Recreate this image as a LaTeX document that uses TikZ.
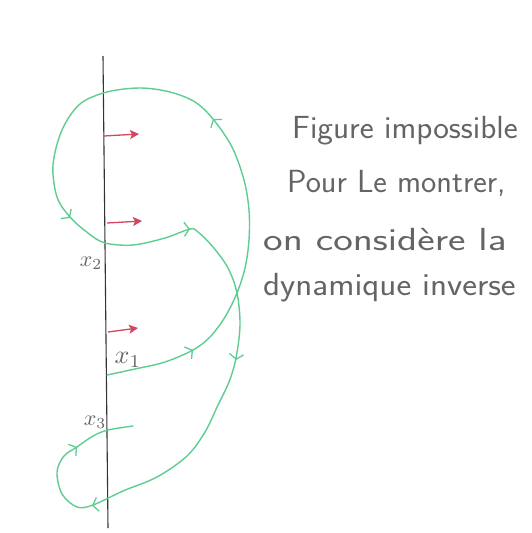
\documentclass[tikz,border=0pt]{standalone}
\usepackage{fontspec}
\usetikzlibrary{arrows.meta}
\definecolor{trajc}{RGB}{95,205,145}
\definecolor{vecc}{RGB}{210,70,95}
\definecolor{pencil}{RGB}{100,100,100}
\newcommand{\biglab}[2][2.2]{\scalebox{#1}{$#2$}}
\begin{document}
\begin{tikzpicture}[x=1pt,y=-1pt,
  traj/.style={draw=trajc, line width=1.4pt, line cap=round, line join=round},
  chev/.style={trajc, line width=1.3pt, -{Straight Barb[length=5pt,width=14pt]}},
  vecarrow/.style={vecc, line width=1.3pt, -{Stealth[length=9pt,width=9pt,inset=2pt]}},
  axisline/.style={draw=black!80, line width=1.1pt},
  note/.style={pencil, font=\fontsize{32}{38}\selectfont\sffamily, anchor=base west, inner sep=0pt},
  lab/.style={pencil, inner sep=0pt}]
\useasboundingbox (0,0) rectangle (532,533);
\fill[white] (0,0) rectangle (532,533);

% vertical axis
\coordinate (axtop) at (103,56);
\coordinate (axbot) at (108,528);
\draw[axisline] (axtop) -- (axbot);

% crossing points
\coordinate (x1) at (107,375);
\coordinate (x2) at (105,243);
\coordinate (x3) at (108,430);

% trajectory
\draw[traj] plot[smooth, tension=0.55] coordinates {
  (x1) (135,369) (165,362) (193,350) (210,337) (225,317) (237,293)
  (245,268) (249,240) (249,210) (244,180) (232,147) (213,119) (195,102)
  (170,92) (140,88) (107,92) (80,104) (62,130) (53,165) (57,197) (70,217)
  (88,233) (x2) (133,245) (165,238) (190,229) (198,232) (213,247)
  (228,268) (237,293) (240,325) (236,358) (229,382) (218,405) (205,432)
  (187,456) (157,477) (123,491) (93,505) (77,507) (62,494) (57,472)
  (64,456) (77,447) (93,436) (x3) (133,426)};

% direction marks on the trajectory
\draw[chev] (191.3,351.0) -- (193,350);
\draw[chev] (214.2,120.6) -- (213,119);
\draw[chev] (68.6,216.5) -- (70,218);
\draw[chev] (188,229.1) -- (190,229);
\draw[chev] (236.2,358) -- (236,360);
\draw[chev] (94,505.1) -- (92,505.5);
\draw[chev] (75.3,448.1) -- (77,447);

% red vectors
\coordinate (v1a) at (104,136); \coordinate (v1b) at (139,134);
\coordinate (v2a) at (107,223); \coordinate (v2b) at (142,221);
\coordinate (v3a) at (108,332); \coordinate (v3b) at (138,328);
\draw[vecarrow] (v1a) -- (v1b);
\draw[vecarrow] (v2a) -- (v2b);
\draw[vecarrow] (v3a) -- (v3b);

% labels
\node[lab] (lx2) at (91,263) {\biglab{x_2}};
\node[lab] (lx1) at (128,360) {\biglab[2.6]{x_1}};
\node[lab] (lx3) at (95,422) {\biglab{x_3}};

% text
\node[note] (l1) at (292,138) {\scalebox{1.04}[1]{Figure impossible}};
\node[note] (l2) at (287,192) {\scalebox{1.01}[1]{Pour Le montrer,}};
\node[note] (l3) at (263,250) {\scalebox{1.3}[1]{on considère la}};
\node[note] (l4) at (263,295) {\scalebox{1.1}[1]{dynamique inverse}};
\end{tikzpicture}
\end{document}
